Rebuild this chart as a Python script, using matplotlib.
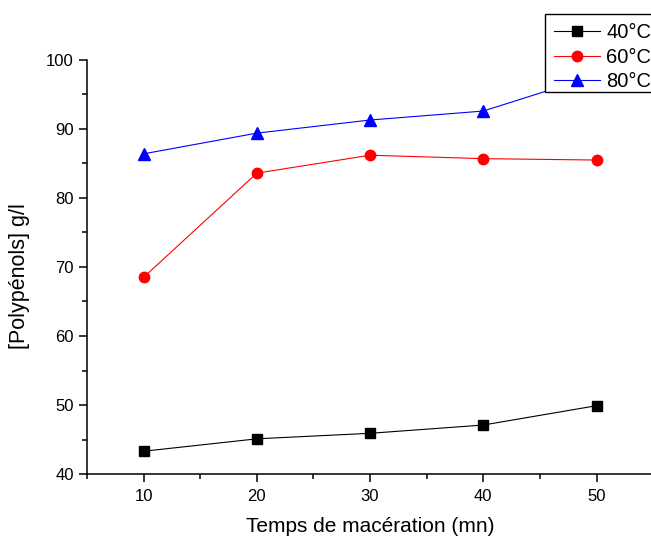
import matplotlib
matplotlib.use('Agg')
import matplotlib.pyplot as plt
from matplotlib.patches import Rectangle
from matplotlib.ticker import MultipleLocator

plt.rcParams['font.family'] = ['Liberation Sans', 'DejaVu Sans']

# maceration time (mn) and polyphenol content (g/l) at three temperatures
temps = [10, 20, 30, 40, 50]
poly_40 = [43.3, 45.1, 45.9, 47.1, 49.9]
poly_60 = [68.5, 83.6, 86.2, 85.7, 85.5]
poly_80 = [86.4, 89.4, 91.3, 92.6, 97.8]

W, H = 651, 537
fig = plt.figure(figsize=(W / 100, H / 100), dpi=100)
ax = fig.add_axes([0.1336, 0.1173, 0.8697, 0.7710])

ax.plot(temps, poly_40, color='black', lw=0.8, marker='s', ms=7, label='40°C')
ax.plot(temps, poly_60, color='red', lw=0.8, marker='o', ms=7.5, label='60°C')
ax.plot(temps, poly_80, color='blue', lw=0.8, marker='^', ms=8, label='80°C')

ax.set_xlim(5, 55)
ax.set_ylim(40, 100)
ax.xaxis.set_major_locator(MultipleLocator(10))
ax.xaxis.set_minor_locator(MultipleLocator(5))
ax.yaxis.set_major_locator(MultipleLocator(10))
ax.yaxis.set_minor_locator(MultipleLocator(5))
ax.tick_params(which='major', direction='out', length=6, width=1.1, labelsize=12)
ax.tick_params(axis='x', which='major', pad=5)
ax.tick_params(which='minor', direction='out', length=3.5, width=1.1)

ax.spines['top'].set_visible(False)
ax.spines['right'].set_visible(False)
ax.spines['left'].set_linewidth(1.1)
ax.spines['bottom'].set_linewidth(1.1)

ax.set_xlabel('Temps de macération (mn)', fontsize=15, labelpad=9)
ax.set_ylabel('[Polypénols] g/l', fontsize=15.5)
ax.yaxis.set_label_coords(-0.101, 0.478)

# legend box: white panel with black border, running off the right edge
box = Rectangle((544.7 / W, 1 - 92 / H), 0.3, 78 / H, transform=fig.transFigure,
                facecolor='white', edgecolor='black', lw=1.0, zorder=4)
fig.patches.append(box)

leg = fig.legend(loc='upper left', bbox_to_anchor=(544.7 / W, 1 - 14 / H),
                 bbox_transform=fig.transFigure, fontsize=14.5, frameon=False,
                 handlelength=2.3, handletextpad=0.3, labelspacing=0.28,
                 borderpad=0.45, borderaxespad=0)
leg.set_zorder(5)

plt.savefig('out.png', dpi=100)
plt.close()
